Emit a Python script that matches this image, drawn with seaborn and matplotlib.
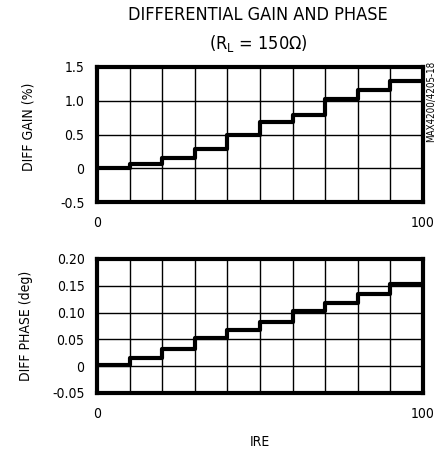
import matplotlib
matplotlib.use("Agg")
import matplotlib.pyplot as plt
import seaborn as sns
import numpy as np
import pandas as pd

ire_steps = [0, 10, 20, 30, 40, 50, 60, 70, 80, 90]
ire_end = 100
diff_gain = [0.0, 0.06, 0.155, 0.285, 0.49, 0.68, 0.79, 1.02, 1.155, 1.30]
diff_phase = [0.003, 0.016, 0.033, 0.052, 0.068, 0.083, 0.103, 0.117, 0.135, 0.154]

gain_ticks = [-0.5, 0, 0.5, 1.0, 1.5]
gain_ticklabels = ["-0.5", "0", "0.5", "1.0", "1.5"]
phase_ticks = [-0.05, 0, 0.05, 0.10, 0.15, 0.20]
phase_ticklabels = ["-0.05", "0", "0.05", "0.10", "0.15", "0.20"]

sns.set_theme(style="white")
plt.rcParams["font.family"] = ["DejaVu Sans"]
plt.rcParams["font.stretch"] = "condensed"
plt.rcParams["text.color"] = "black"
plt.rcParams["axes.labelcolor"] = "black"
plt.rcParams["xtick.color"] = "black"
plt.rcParams["ytick.color"] = "black"

fig = plt.figure(figsize=(4.42, 4.49), dpi=100)
ax1 = fig.add_axes([97/442, 1-202/449, 326/442, 135/449])
ax2 = fig.add_axes([97/442, 1-393/449, 326/442, 134/449])

def make_df(vals):
    x = list(ire_steps) + [ire_end]
    y = list(vals) + [vals[-1]]
    return pd.DataFrame({"IRE": x, "val": y})

def style(ax, ylim, yticks, ylabels, ylabel):
    ax.set_xlim(0, 100)
    ax.set_ylim(*ylim)
    ax.set_xticks(np.arange(0, 101, 10), minor=True)
    ax.set_xticks([0, 100])
    ax.set_xticklabels(["0", "100"])
    ax.set_yticks(yticks)
    ax.set_yticklabels(ylabels)
    ax.grid(True, which="both", axis="x", color="black", linewidth=1.0)
    ax.grid(True, which="major", axis="y", color="black", linewidth=1.0)
    ax.set_axisbelow(True)
    for s in ax.spines.values():
        s.set_visible(True)
        s.set_color("black")
        s.set_linewidth(3.0)
    ax.tick_params(axis="both", which="both", length=0, labelsize=10)
    ax.tick_params(axis="x", pad=10)
    ax.tick_params(axis="y", pad=9)
    ax.set_ylabel(ylabel, fontsize=10)

sns.lineplot(data=make_df(diff_gain), x="IRE", y="val", ax=ax1,
             drawstyle="steps-post", color="black", linewidth=3.0)
style(ax1, (-0.5, 1.5), gain_ticks, gain_ticklabels, "DIFF GAIN (%)")
ax1.yaxis.set_label_coords(-0.19, 0.56)
ax1.set_xlabel("")

sns.lineplot(data=make_df(diff_phase), x="IRE", y="val", ax=ax2,
             drawstyle="steps-post", color="black", linewidth=3.0)
style(ax2, (-0.05, 0.20), phase_ticks, phase_ticklabels, "DIFF PHASE (deg)")
ax2.yaxis.set_label_coords(-0.195, 0.5)
ax2.set_xlabel("IRE", fontsize=10, labelpad=10)

fig.text(258/442, 1-15/449, "DIFFERENTIAL GAIN AND PHASE", ha="center", va="center", fontsize=13)
fig.text(258/442, 1-43/449, r"(R$_\mathregular{L}$ = 150Ω)", ha="center", va="center", fontsize=13)
fig.text(431/442, 1-101/449, "MAX4200/4205-18", rotation=90, ha="center", va="center", fontsize=7)

fig.savefig("out.png", dpi=100)
